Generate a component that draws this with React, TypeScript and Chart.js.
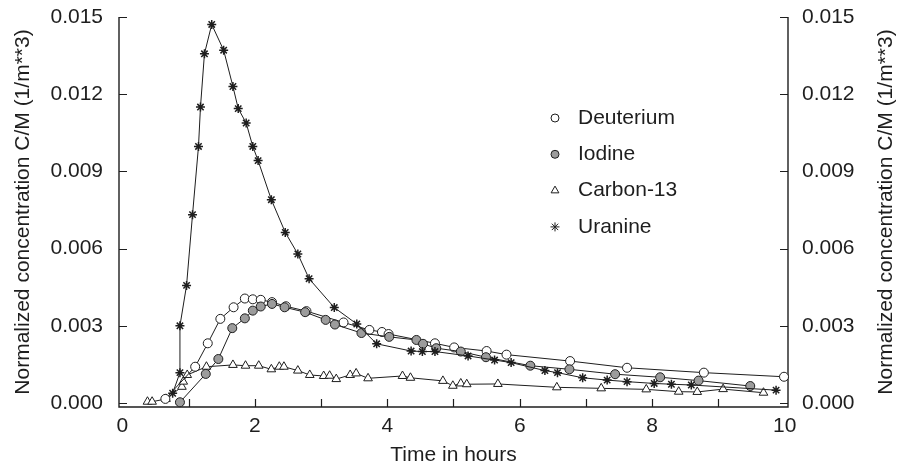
import React, { useEffect, useRef } from 'react';
import { Chart, registerables } from 'chart.js';

Chart.register(...registerables);

// ---- data ----
const deuteriumX = [0.65, 1.10, 1.29, 1.48, 1.68, 1.85, 1.97, 2.09, 2.26, 2.47, 2.78, 3.34, 3.73, 3.92, 4.02, 4.72, 5.01, 5.50, 5.80, 6.76, 7.62, 8.78, 9.99];
const deuteriumY = [0.00016, 0.00141, 0.00232, 0.00327, 0.00372, 0.00406, 0.00403, 0.00401, 0.00392, 0.00376, 0.00357, 0.00313, 0.00284, 0.00276, 0.00268, 0.00232, 0.00216, 0.00202, 0.00188, 0.00163, 0.00137, 0.00118, 0.00102];

const iodineX = [0.87, 1.26, 1.45, 1.66, 1.85, 1.97, 2.09, 2.26, 2.45, 2.76, 3.07, 3.21, 3.61, 4.03, 4.44, 4.54, 4.74, 5.11, 5.49, 6.16, 6.75, 7.44, 8.12, 8.70, 9.48];
const iodineY = [0.00003, 0.00113, 0.00171, 0.00291, 0.00329, 0.00359, 0.00375, 0.00385, 0.00372, 0.00353, 0.00323, 0.00305, 0.00272, 0.00257, 0.00245, 0.00230, 0.00213, 0.00200, 0.00178, 0.00145, 0.00131, 0.00112, 0.00100, 0.00087, 0.00066];

const carbonX = [0.38, 0.45, 0.66, 0.90, 0.92, 0.98, 1.27, 1.67, 1.86, 2.06, 2.25, 2.37, 2.44, 2.65, 2.83, 3.04, 3.13, 3.23, 3.44, 3.53, 3.71, 4.23, 4.35, 4.84, 4.99, 5.11, 5.20, 5.67, 6.56, 7.23, 7.91, 8.40, 8.68, 9.07, 9.68];
const carbonY = [0.00005, 0.00005, 0.00016, 0.00063, 0.00083, 0.00109, 0.00141, 0.00148, 0.00145, 0.00145, 0.00131, 0.00141, 0.00141, 0.00126, 0.00109, 0.00105, 0.00106, 0.00093, 0.00109, 0.00115, 0.00096, 0.00105, 0.00098, 0.00086, 0.00067, 0.00076, 0.00073, 0.00074, 0.00061, 0.00057, 0.00053, 0.00044, 0.00043, 0.00054, 0.00040];

const uranineX = [0.76, 0.87, 0.87, 0.97, 1.06, 1.15, 1.18, 1.24, 1.35, 1.53, 1.67, 1.75, 1.87, 1.97, 2.05, 2.25, 2.46, 2.65, 2.82, 3.20, 3.54, 3.84, 4.36, 4.53, 4.72, 5.22, 5.62, 5.87, 6.38, 6.57, 6.95, 7.32, 7.62, 8.03, 8.29, 8.59, 9.87];
const uranineY = [0.00038, 0.00118, 0.00300, 0.00457, 0.00732, 0.00997, 0.01150, 0.01357, 0.01471, 0.01371, 0.01230, 0.01144, 0.01088, 0.00997, 0.00942, 0.00790, 0.00663, 0.00579, 0.00483, 0.00371, 0.00307, 0.00230, 0.00202, 0.00200, 0.00200, 0.00183, 0.00167, 0.00157, 0.00126, 0.00118, 0.00098, 0.00089, 0.00083, 0.00076, 0.00073, 0.00070, 0.00050];

const seriesNames = ['Deuterium', 'Iodine', 'Carbon-13', 'Uranine'];
const yTickValues = [0, 0.003, 0.006, 0.009, 0.012, 0.015];
const xTickValues = [0, 1, 2, 3, 4, 5, 6, 7, 8, 9, 10];
const xLabelValues = [0, 2, 4, 6, 8, 10];

const xTitle = 'Time in hours';
const yTitle = 'Normalized concentration C/M (1/m**3)';

const FONT = '"Liberation Sans", Arial, Helvetica, sans-serif';
const INK = '#1e1e1e';
const GRAY = '#9c9c9c';

const toPts = (xs: number[], ys: number[]) => xs.map((x, i) => ({ x, y: ys[i] }));

function drawMarker(ctx: CanvasRenderingContext2D, style: string, x: number, y: number, r: number, fill: string) {
  ctx.save();
  ctx.strokeStyle = INK;
  ctx.fillStyle = fill;
  ctx.lineWidth = 1;
  ctx.beginPath();
  if (style === 'circle') {
    ctx.arc(x, y, r, 0, Math.PI * 2);
    ctx.fill();
    ctx.stroke();
  } else if (style === 'triangle') {
    for (let k = 0; k < 3; k++) {
      const a = (k * 2 * Math.PI) / 3;
      const px = x + Math.sin(a) * r;
      const py = y - Math.cos(a) * r;
      if (k === 0) ctx.moveTo(px, py); else ctx.lineTo(px, py);
    }
    ctx.closePath();
    ctx.fill();
    ctx.stroke();
  } else {
    for (let k = 0; k < 4; k++) {
      const a = (k * Math.PI) / 4;
      ctx.moveTo(x - Math.cos(a) * r, y - Math.sin(a) * r);
      ctx.lineTo(x + Math.cos(a) * r, y + Math.sin(a) * r);
    }
    ctx.stroke();
  }
  ctx.restore();
}

const framePlugin = {
  id: 'frame',
  beforeDatasetsDraw(chart: any) {
    const { ctx, chartArea } = chart;
    const { left, right, top, bottom } = chartArea;
    const xs = chart.scales.x;
    const ys = chart.scales.y;
    const tl = 8;
    ctx.save();
    ctx.strokeStyle = INK;
    ctx.lineWidth = 1.4;
    ctx.beginPath();
    ctx.moveTo(left, top);
    ctx.lineTo(left, bottom);
    ctx.lineTo(right, bottom);
    ctx.lineTo(right, top);
    ctx.stroke();
    ctx.lineWidth = 1.2;
    ctx.beginPath();
    yTickValues.forEach((v) => {
      const py = Math.round(ys.getPixelForValue(v)) + 0.5;
      ctx.moveTo(left, py);
      ctx.lineTo(left + tl, py);
      ctx.moveTo(right, py);
      ctx.lineTo(right - tl, py);
    });
    xTickValues.forEach((v) => {
      if (v === 0 || v === 10) return;
      const px = Math.round(xs.getPixelForValue(v)) + 0.5;
      ctx.moveTo(px, bottom);
      ctx.lineTo(px, bottom - tl);
    });
    ctx.stroke();
    ctx.restore();
  },
  afterDraw(chart: any) {
    const { ctx, chartArea } = chart;
    const { left, right, top, bottom } = chartArea;
    // right-hand axis title (reads bottom to top, like the left one)
    ctx.save();
    ctx.translate(right + 98, (top + bottom) / 2);
    ctx.rotate(-Math.PI / 2);
    ctx.font = `21px ${FONT}`;
    ctx.fillStyle = INK;
    ctx.textAlign = 'center';
    ctx.textBaseline = 'middle';
    ctx.fillText(yTitle, 0, 0);
    ctx.restore();

    // legend
    const styles = ['circle', 'circle', 'triangle', 'star'];
    const fills = ['#ffffff', GRAY, '#ffffff', INK];
    const radii = [4, 4, 4.5, 4.5];
    const lx = left + 436;
    const ly = top + 101;
    const dy = 36.3;
    ctx.save();
    ctx.font = `21px ${FONT}`;
    ctx.fillStyle = INK;
    ctx.textBaseline = 'middle';
    seriesNames.forEach((name, i) => {
      const y = ly + i * dy;
      drawMarker(ctx, styles[i], lx, y, radii[i], fills[i]);
      ctx.fillStyle = INK;
      ctx.fillText(name, lx + 23, y);
    });
    ctx.restore();
  },
};

const fitV = (w: number) => (s: any) => {
  s.width = w;
  s.paddingTop = 0;
  s.paddingBottom = 0;
};

export default function App() {
  const ref = useRef<HTMLCanvasElement | null>(null);

  useEffect(() => {
    document.body.style.margin = '0';
    if (!ref.current) return;
    Chart.defaults.font.family = FONT;
    Chart.defaults.color = INK;

    const lineCommon = {
      showLine: true,
      tension: 0,
      borderColor: INK,
      borderWidth: 1,
      pointBorderColor: INK,
      pointBorderWidth: 1,
      clip: false as any,
    };

    const chart = new Chart(ref.current, {
      type: 'scatter',
      data: {
        datasets: [
          {
            ...lineCommon,
            label: seriesNames[0],
            data: toPts(deuteriumX, deuteriumY),
            pointStyle: 'circle',
            pointRadius: 4.5,
            pointBackgroundColor: '#ffffff',
            order: 2,
          },
          {
            ...lineCommon,
            label: seriesNames[1],
            data: toPts(iodineX, iodineY),
            pointStyle: 'circle',
            pointRadius: 4.5,
            pointBackgroundColor: GRAY,
            order: 1,
          },
          {
            ...lineCommon,
            label: seriesNames[2],
            data: toPts(carbonX, carbonY),
            pointStyle: 'triangle',
            pointRadius: 5,
            pointBackgroundColor: '#ffffff',
            order: 3,
          },
          {
            ...lineCommon,
            label: seriesNames[3],
            data: toPts(uranineX, uranineY),
            pointStyle: 'star',
            pointRadius: 4.5,
            pointBorderWidth: 1.5,
            pointBackgroundColor: INK,
            order: 0,
          },
        ],
      },
      options: {
        responsive: false,
        animation: false,
        events: [],
        layout: { padding: { top: 17, left: 0, right: 0, bottom: 0 } },
        plugins: {
          legend: { display: false },
          tooltip: { enabled: false },
        },
        scales: {
          x: {
            type: 'linear',
            position: 'bottom',
            min: -0.05,
            max: 10.05,
            afterFit: (s: any) => { s.height = 58; s.paddingLeft = 0; s.paddingRight = 0; },
            afterBuildTicks: (s: any) => { s.ticks = xLabelValues.map((v) => ({ value: v })); },
            grid: { display: false, drawTicks: false },
            border: { display: false },
            ticks: {
              padding: 7,
              maxRotation: 0,
              autoSkip: false,
              font: { size: 21 },
              color: INK,
              callback: (v: any) => String(v),
            },
            title: {
              display: true,
              text: xTitle,
              font: { size: 21 },
              color: INK,
              padding: { top: 0, bottom: -3 },
            },
          },
          y: {
            type: 'linear',
            position: 'left',
            min: -0.000155,
            max: 0.015,
            afterFit: fitV(119),
            afterBuildTicks: (s: any) => { s.ticks = yTickValues.map((v) => ({ value: v })); },
            grid: { display: false, drawTicks: false },
            border: { display: false },
            ticks: {
              padding: 16,
              autoSkip: false,
              font: { size: 21 },
              color: INK,
              callback: (v: any) => Number(v).toFixed(3),
            },
            title: {
              display: true,
              text: yTitle,
              font: { size: 21 },
              color: INK,
              padding: { top: 11, bottom: 0 },
            },
          },
          y2: {
            type: 'linear',
            position: 'right',
            min: -0.000155,
            max: 0.015,
            afterFit: fitV(115),
            afterBuildTicks: (s: any) => { s.ticks = yTickValues.map((v) => ({ value: v })); },
            grid: { display: false, drawTicks: false },
            border: { display: false },
            ticks: {
              padding: 14,
              autoSkip: false,
              font: { size: 21 },
              color: INK,
              callback: (v: any) => Number(v).toFixed(3),
            },
            title: { display: false },
          },
        },
      },
      plugins: [framePlugin],
    });
    return () => chart.destroy();
  }, []);

  return (
    <div style={{ position: 'absolute', left: 0, top: 0, width: 903, height: 465, background: '#fff' }}>
      <canvas ref={ref} width={903} height={465} style={{ display: 'block', width: 903, height: 465 }} />
    </div>
  );
}
